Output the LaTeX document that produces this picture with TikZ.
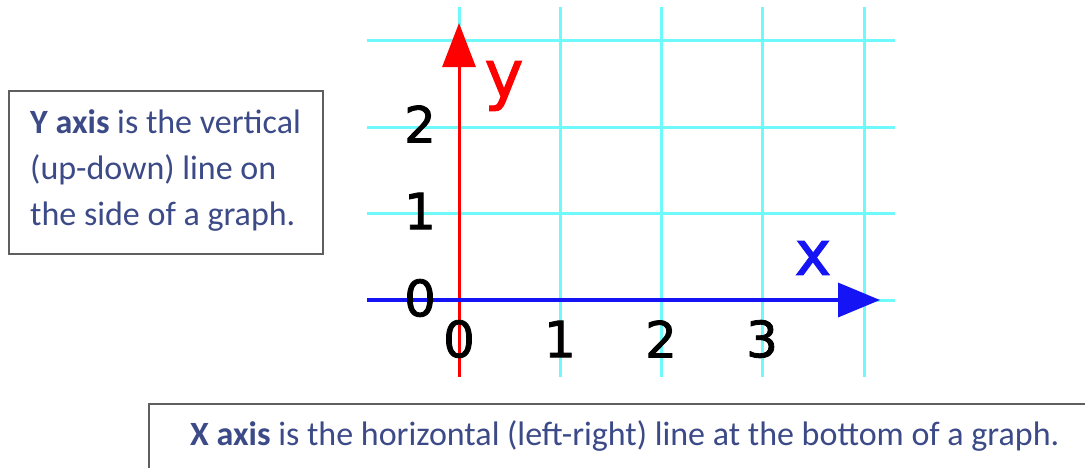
\documentclass[tikz,border=0pt]{standalone}
\usepackage{fontspec}
\setmainfont{Carlito}
\newfontfamily\graphfont[FakeBold=1.6]{DejaVu Sans}
\usetikzlibrary{arrows.meta}
\definecolor{gridcyan}{RGB}{110,250,250}
\definecolor{axred}{RGB}{255,0,0}
\definecolor{axblue}{RGB}{20,20,245}
\definecolor{txtblue}{RGB}{60,75,135}
\definecolor{boxgray}{RGB}{95,95,95}
\tikzset{
  gridline/.style={draw=gridcyan, line width=3pt},
  tick/.style={font=\graphfont\fontsize{50}{60}\selectfont, inner sep=0pt, anchor=center},
  boxframe/.style={draw=boxgray, line width=2pt, inner sep=0pt, anchor=north west},
  boxtext/.style={font=\fontsize{34}{40}\selectfont, text=txtblue, inner sep=0pt, anchor=base west},
}
\begin{document}
\begin{tikzpicture}[x=1pt,y=-1pt]
\useasboundingbox (0,0) rectangle (1085,467);
\clip (0,0) rectangle (1085,467);
\fill[white] (0,0) rectangle (1085,467);
% grid
\foreach \gx/\gn in {459/a,560/b,661/c,762/d,864/e}{
  \coordinate (vt\gn) at (\gx,7);
  \coordinate (vb\gn) at (\gx,377);
  \draw[gridline] (vt\gn) -- (vb\gn);
}
\foreach \gy/\gn in {40/a,127/b,213/c,300/d}{
  \coordinate (hl\gn) at (367,\gy);
  \coordinate (hr\gn) at (895,\gy);
  \draw[gridline] (hl\gn) -- (hr\gn);
}
% axes
\coordinate (ybot) at (459,377);
\coordinate (ytop) at (459,23);
\coordinate (xleft) at (367,300);
\coordinate (xright) at (880,300);
\draw[axred, line width=3pt, -{Triangle[length=44pt,width=33pt]}] (ybot) -- (ytop);
\draw[axblue, line width=3.5pt, -{Triangle[length=42pt,width=34pt]}] (xleft) -- (xright);
% axis letters
\node[font=\graphfont\fontsize{66}{70}\selectfont, text=axred, inner sep=0pt] (ylab) at (504,86) {y};
\node[font=\graphfont\fontsize{62}{70}\selectfont, text=axblue, inner sep=0pt] (xlab) at (813,258) {x};
% tick labels
\node[tick] (y2) at (420,124) {2};
\node[tick] (y1) at (420,211) {1};
\node[tick] (y0) at (420,298) {0};
\node[tick] (x0) at (459,339) {0};
\node[tick] (x1) at (560,339) {1};
\node[tick] (x2) at (661,339) {2};
\node[tick] (x3) at (762,339) {3};
% Y box
\node[boxframe, minimum width=314pt, minimum height=163pt] (ybox) at (8,90) {};
\node[boxtext] (yl1) at (30,133) {\textbf{Y axis} is the vertical};
\node[boxtext] (yl2) at (30,179) {(up-down) line on};
\node[boxtext] (yl3) at (30,225) {the side of a graph.};
% X box
\node[boxframe, minimum width=960pt, minimum height=90pt] (xbox) at (148,403) {};
\node[boxtext] (xl1) at (190,445) {\textbf{X axis} is the horizontal (left-right) line at the bottom of a graph.};
\end{tikzpicture}
\end{document}
